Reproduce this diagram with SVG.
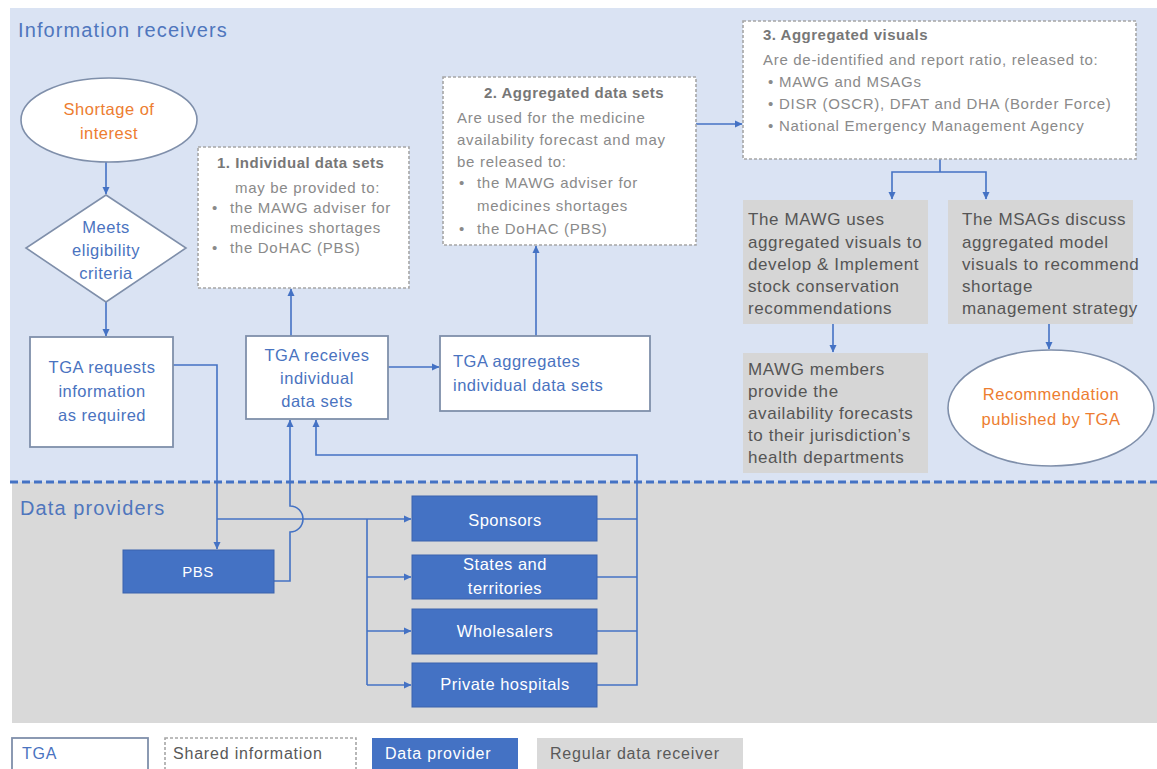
<svg xmlns="http://www.w3.org/2000/svg" width="1157" height="769" viewBox="0 0 1157 769">
<style>
text{font-family:"Liberation Sans",Arial,sans-serif}
.sec{font-size:20px;fill:#4f76bd;letter-spacing:1.1px}
.tga{fill:#fff;stroke:#7f8faa;stroke-width:1.8}
.tt{font-size:16.5px;fill:#4a73c0;letter-spacing:0.5px}
.or{font-size:16.5px;fill:#ed7d31;letter-spacing:0.5px}
.sh{fill:#fff;stroke:#a6a6a6;stroke-width:1.6;stroke-dasharray:3 2}
.st{font-size:15px;fill:#8a8a8a;letter-spacing:0.7px}
.sb{font-size:15px;fill:#777;font-weight:bold;letter-spacing:0.5px}
.dp{fill:#4472c4;stroke:#3a63ad;stroke-width:1}
.dt{font-size:16.5px;fill:#fff;letter-spacing:0.5px}
.rg{fill:#d6d6d6}
.rt{font-size:17px;fill:#555;letter-spacing:0.6px}
.c{fill:none;stroke:#4472c4;stroke-width:1.6}
.ca{fill:none;stroke:#4472c4;stroke-width:1.6;marker-end:url(#ah)}
.lg{font-size:16px;letter-spacing:0.8px}
</style>
<defs>
<marker id="ah" markerWidth="8" markerHeight="8" refX="7" refY="4" orient="auto" markerUnits="userSpaceOnUse">
<path d="M0,0.5 L7.5,4 L0,7.5 Z" fill="#4472c4"/>
</marker>
</defs>
<rect x="0" y="0" width="1157" height="769" fill="#fff"/>
<rect id="receivers-area" x="10" y="8" width="1147" height="474" fill="#dae3f3"/>
<rect id="providers-area" x="12" y="482" width="1145" height="241" fill="#d9d9d9"/>
<line x1="10" y1="482" x2="1157" y2="482" stroke="#4472c4" stroke-width="3" stroke-dasharray="8 4"/>
<text class="sec" x="18" y="37">Information receivers</text>
<text class="sec" x="20" y="515">Data providers</text>

<g id="connectors">
<line class="ca" x1="106" y1="162" x2="106" y2="194"/>
<line class="ca" x1="106" y1="302" x2="106" y2="336"/>
<polyline class="ca" points="173,365 217,365 217,549"/>
<line class="ca" x1="217" y1="519" x2="411" y2="519"/>
<polyline class="c" points="367,519 367,685"/>
<line class="ca" x1="367" y1="577" x2="411" y2="577"/>
<line class="ca" x1="367" y1="631" x2="411" y2="631"/>
<line class="ca" x1="367" y1="685" x2="411" y2="685"/>
<path class="ca" d="M274,581 H290 V532 A13,13 0 0 0 290,506 V420"/>
<polyline class="c" points="597,519 637,519"/>
<polyline class="c" points="597,577 637,577"/>
<polyline class="c" points="597,631 637,631"/>
<polyline class="ca" points="597,685 637,685 637,455 316,455 316,420"/>
<line class="ca" x1="291" y1="336" x2="291" y2="289"/>
<line class="ca" x1="388" y1="367" x2="439" y2="367"/>
<line class="ca" x1="536" y1="336" x2="536" y2="246"/>
<line class="ca" x1="696" y1="124" x2="742" y2="124"/>
<polyline class="c" points="940,159 940,172"/>
<polyline class="ca" points="940,172 892,172 892,199"/>
<polyline class="ca" points="940,172 986,172 986,199"/>
<line class="ca" x1="833" y1="324" x2="833" y2="352"/>
<line class="ca" x1="1049" y1="324" x2="1049" y2="349"/>
</g>

<g id="shortage">
<ellipse cx="109" cy="120" rx="88" ry="42" fill="#fff" stroke="#7f8faa" stroke-width="1.6"/>
<text class="or" x="109" y="115" text-anchor="middle">Shortage of</text>
<text class="or" x="109" y="139" text-anchor="middle">interest</text>
</g>
<g id="eligibility">
<polygon points="106,195 186,248 106,302 26,248" fill="#fff" stroke="#7f8faa" stroke-width="1.6"/>
<text class="tt" x="106" y="233" text-anchor="middle">Meets</text>
<text class="tt" x="106" y="256" text-anchor="middle">eligibility</text>
<text class="tt" x="106" y="279" text-anchor="middle">criteria</text>
</g>
<g id="tga-requests">
<rect class="tga" x="30" y="337" width="143" height="110"/>
<text class="tt" x="102" y="373" text-anchor="middle">TGA requests</text>
<text class="tt" x="102" y="397" text-anchor="middle">information</text>
<text class="tt" x="102" y="421" text-anchor="middle">as required</text>
</g>
<g id="tga-receives">
<rect class="tga" x="246" y="336" width="142" height="83"/>
<text class="tt" x="317" y="361" text-anchor="middle">TGA receives</text>
<text class="tt" x="317" y="384" text-anchor="middle">individual</text>
<text class="tt" x="317" y="407" text-anchor="middle">data sets</text>
</g>
<g id="tga-aggregates">
<rect class="tga" x="440" y="336" width="210" height="75"/>
<text class="tt" x="453" y="367">TGA aggregates</text>
<text class="tt" x="453" y="391">individual data sets</text>
</g>
<g id="individual-data-sets">
<rect class="sh" x="198" y="147" width="211" height="141"/>
<text class="sb" x="217" y="168">1. Individual data sets</text>
<text class="st" x="235" y="193">may be provided to:</text>
<text class="st" x="212" y="213">•</text>
<text class="st" x="230" y="213">the MAWG adviser for</text>
<text class="st" x="230" y="233">medicines shortages</text>
<text class="st" x="212" y="253">•</text>
<text class="st" x="230" y="253">the DoHAC (PBS)</text>
</g>
<g id="aggregated-data-sets">
<rect class="sh" x="443" y="77" width="253" height="168"/>
<text class="sb" x="574" y="98" text-anchor="middle">2. Aggregated data sets</text>
<text class="st" x="457" y="123">Are used for the medicine</text>
<text class="st" x="457" y="145">availability forecast and may</text>
<text class="st" x="457" y="167">be released to:</text>
<text class="st" x="459" y="188">•</text>
<text class="st" x="477" y="188">the MAWG adviser for</text>
<text class="st" x="477" y="211">medicines shortages</text>
<text class="st" x="459" y="234">•</text>
<text class="st" x="477" y="234">the DoHAC (PBS)</text>
</g>
<g id="aggregated-visuals">
<rect class="sh" x="743" y="21" width="393" height="138"/>
<text class="sb" x="763" y="40">3. Aggregated visuals</text>
<text class="st" x="763" y="65">Are de-identified and report ratio, released to:</text>
<text class="st" x="768" y="87">•</text>
<text class="st" x="779" y="87">MAWG and MSAGs</text>
<text class="st" x="768" y="109">•</text>
<text class="st" x="779" y="109">DISR (OSCR), DFAT and DHA (Border Force)</text>
<text class="st" x="768" y="131">•</text>
<text class="st" x="779" y="131">National Emergency Management Agency</text>
</g>
<g id="mawg-uses">
<rect class="rg" x="743" y="200" width="185" height="124"/>
<text class="rt" x="748" y="225">The MAWG uses</text>
<text class="rt" x="748" y="248">aggregated visuals to</text>
<text class="rt" x="748" y="270">develop &amp; Implement</text>
<text class="rt" x="748" y="292">stock conservation</text>
<text class="rt" x="748" y="314">recommendations</text>
</g>
<g id="msags-discuss">
<rect class="rg" x="948" y="200" width="185" height="124"/>
<text class="rt" x="962" y="225">The MSAGs discuss</text>
<text class="rt" x="962" y="248">aggregated model</text>
<text class="rt" x="962" y="270">visuals to recommend</text>
<text class="rt" x="962" y="292">shortage</text>
<text class="rt" x="962" y="314">management strategy</text>
</g>
<g id="mawg-members">
<rect class="rg" x="743" y="353" width="185" height="120"/>
<text class="rt" x="748" y="375">MAWG members</text>
<text class="rt" x="748" y="397">provide the</text>
<text class="rt" x="748" y="419">availability forecasts</text>
<text class="rt" x="748" y="441">to their jurisdiction’s</text>
<text class="rt" x="748" y="463">health departments</text>
</g>
<g id="recommendation">
<ellipse cx="1051" cy="408" rx="103" ry="58" fill="#fff" stroke="#7f8faa" stroke-width="1.6"/>
<text class="or" x="1051" y="400" text-anchor="middle">Recommendation</text>
<text class="or" x="1051" y="425" text-anchor="middle">published by TGA</text>
</g>
<g id="pbs">
<rect class="dp" x="123" y="550" width="151" height="43"/>
<text class="dt" x="198" y="577" text-anchor="middle" style="font-size:15px">PBS</text>
</g>
<g id="sponsors">
<rect class="dp" x="412" y="496" width="185" height="45"/>
<text class="dt" x="505" y="526" text-anchor="middle">Sponsors</text>
</g>
<g id="states">
<rect class="dp" x="412" y="555" width="185" height="44"/>
<text class="dt" x="505" y="570" text-anchor="middle">States and</text>
<text class="dt" x="505" y="594" text-anchor="middle">territories</text>
</g>
<g id="wholesalers">
<rect class="dp" x="412" y="609" width="185" height="45"/>
<text class="dt" x="505" y="637" text-anchor="middle">Wholesalers</text>
</g>
<g id="private-hospitals">
<rect class="dp" x="412" y="663" width="185" height="44"/>
<text class="dt" x="505" y="690" text-anchor="middle">Private hospitals</text>
</g>

<g id="legend">
<rect class="tga" x="12" y="738" width="136" height="40"/>
<text class="lg" x="22" y="759" fill="#4a73c0">TGA</text>
<rect class="sh" x="165" y="738" width="191" height="40"/>
<text class="lg" x="173" y="759" fill="#595959">Shared information</text>
<rect x="372" y="738" width="146" height="40" fill="#4472c4"/>
<text class="lg" x="385" y="759" fill="#fff">Data provider</text>
<rect x="537" y="738" width="206" height="40" fill="#d9d9d9"/>
<text class="lg" x="550" y="759" fill="#595959">Regular data receiver</text>
</g>
</svg>
